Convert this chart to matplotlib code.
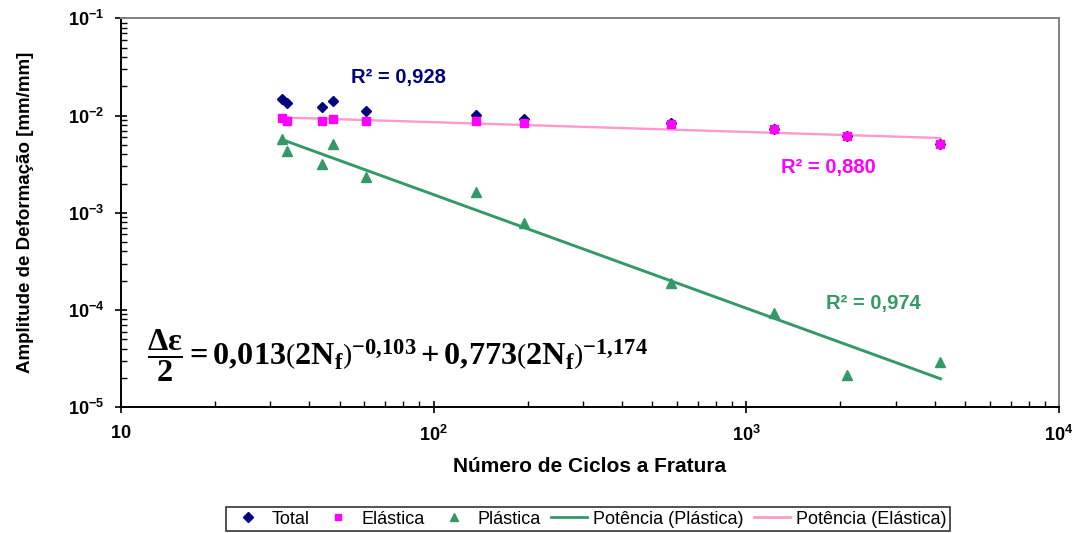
import numpy as np
import matplotlib
matplotlib.use('Agg')
from matplotlib import pyplot as plt
from matplotlib.ticker import FuncFormatter, LogLocator
from matplotlib.lines import Line2D

plt.rcParams['font.family'] = ['Liberation Sans', 'DejaVu Sans']
plt.rcParams['mathtext.fontset'] = 'custom'
plt.rcParams['mathtext.sf'] = 'Liberation Sans:bold'
plt.rcParams['mathtext.bf'] = 'Liberation Serif:bold'
plt.rcParams['mathtext.rm'] = 'Liberation Serif'
plt.rcParams['mathtext.it'] = 'Liberation Serif:italic'

# cycles to fracture
ciclos = [32.7, 34.0, 43.8, 47.8, 60.6, 137, 194.5, 573, 1223, 2094, 4177]
# strain amplitudes [mm/mm]
total = [0.01469, 0.01355, 0.01216, 0.01403, 0.01114, 0.01014, 0.00915,
         0.0083, 0.0073, 0.0062, 0.0051]
elastica = [0.00951, 0.00885, 0.00885, 0.00915, 0.00879, 0.00879, 0.00844,
            0.00812, 0.00722, 0.00617, 0.00506]
plastica = [0.00574, 0.00432, 0.00318, 0.00506, 0.00235, 0.00163, 0.00078,
            0.000188, 0.0000940, 0.0000215, 0.0000294]

r2_labels = ['R² = 0,928', 'R² = 0,880', 'R² = 0,974']

navy = '#000080'
magenta = '#FF00FF'
green = '#339966'
pink = '#FF99CC'


def power_fit(x, y):
    # excel style power trendline: linear fit in log-log space
    lx, ly = np.log10(x), np.log10(y)
    b, a = np.polyfit(lx, ly, 1)
    xs = np.logspace(lx.min(), lx.max(), 100)
    return xs, 10 ** (a + b * np.log10(xs))


fig = plt.figure(figsize=(10.81, 5.33), dpi=100)
ax = fig.add_axes([121 / 1081, 1 - 407.3 / 533, (1059 - 121) / 1081, (407.3 - 18.3) / 533])

x = np.array(ciclos)
xs_p, ys_p = power_fit(x, np.array(plastica))
xs_e, ys_e = power_fit(x, np.array(elastica))

ax.plot(xs_p, ys_p, color=green, lw=2.1, zorder=2)
ax.plot(xs_e, ys_e, color=pink, lw=1.7, zorder=2)
ax.plot(x, total, 'D', color=navy, ms=5.5, zorder=3)
ax.plot(x, elastica, 's', color=magenta, ms=5.5, zorder=4)
ax.plot(x, plastica, '^', color=green, ms=6.5, zorder=4)

ax.set_xscale('log')
ax.set_yscale('log')
ax.set_xlim(10, 1e4)
ax.set_ylim(1e-5, 1e-1)

ax.xaxis.set_major_locator(LogLocator(base=10))
ax.yaxis.set_major_locator(LogLocator(base=10))
ax.xaxis.set_minor_locator(LogLocator(base=10, subs=np.arange(2, 10)))
ax.yaxis.set_minor_locator(LogLocator(base=10, subs=np.arange(2, 10)))


def fmt_x(v, pos):
    e = int(round(np.log10(v)))
    if e == 1:
        return r'$\mathsf{10}$'
    return r'$\mathsf{10^{%d}}$' % e


def fmt_y(v, pos):
    e = int(round(np.log10(v)))
    return r'$\mathsf{10^{%d}}$' % e


ax.xaxis.set_major_formatter(FuncFormatter(fmt_x))
ax.yaxis.set_major_formatter(FuncFormatter(fmt_y))
ax.xaxis.set_minor_formatter(FuncFormatter(lambda v, p: ''))
ax.yaxis.set_minor_formatter(FuncFormatter(lambda v, p: ''))

ax.tick_params(which='major', direction='inout', length=8, width=1.2, labelsize=13, colors='black')
ax.tick_params(axis='x', which='major', pad=9)
ax.tick_params(axis='y', which='major', pad=8)
ax.tick_params(which='minor', direction='in', length=4, width=1.0)

for s in ['left', 'bottom']:
    ax.spines[s].set_color('black')
    ax.spines[s].set_linewidth(1.4)
for s in ['top', 'right']:
    ax.spines[s].set_color('#808080')
    ax.spines[s].set_linewidth(1.4)

ax.set_xlabel('Número de Ciclos a Fratura', fontsize=15, fontweight='bold', labelpad=8)
ax.set_ylabel('Amplitude de Deformação [mm/mm]', fontsize=13.5, fontweight='bold', labelpad=24)

fig.text(351 / 1081, 1 - 78 / 533, r2_labels[0], color=navy, fontsize=14.5,
         fontweight='bold', va='center', ha='left')
fig.text(781 / 1081, 1 - 168 / 533, r2_labels[1], color=magenta, fontsize=14.5,
         fontweight='bold', va='center', ha='left')
fig.text(826 / 1081, 1 - 303 / 533, r2_labels[2], color=green, fontsize=14.5,
         fontweight='bold', va='center', ha='left')

eq = (r'$\mathbf{\dfrac{\Delta\varepsilon}{2} = 0{,}013\left(2N_f\right)^{-0{,}103}'
      r' + 0{,}773\left(2N_f\right)^{-1{,}174}}$')
fig.text(147 / 1081, 1 - 356 / 533, eq, fontsize=23.2, va='center', ha='left')

handles = [
    Line2D([], [], ls='none', marker='D', color=navy, ms=5),
    Line2D([], [], ls='none', marker='s', color=magenta, ms=5),
    Line2D([], [], ls='none', marker='^', color=green, ms=6),
    Line2D([], [], color=green, lw=2),
    Line2D([], [], color=pink, lw=2),
]
labels = ['Total', 'Elástica', 'Plástica', 'Potência (Plástica)', 'Potência (Elástica)']
leg = fig.legend(handles, labels, loc='lower center', bbox_to_anchor=(588 / 1081, 0.003),
                 ncol=5, fontsize=13, frameon=True, fancybox=False, edgecolor='black',
                 borderpad=0.2, columnspacing=0.6, handletextpad=0.3, handlelength=2.0,
                 borderaxespad=0)
leg.get_frame().set_linewidth(1.2)

fig.savefig('out.png', dpi=100)
